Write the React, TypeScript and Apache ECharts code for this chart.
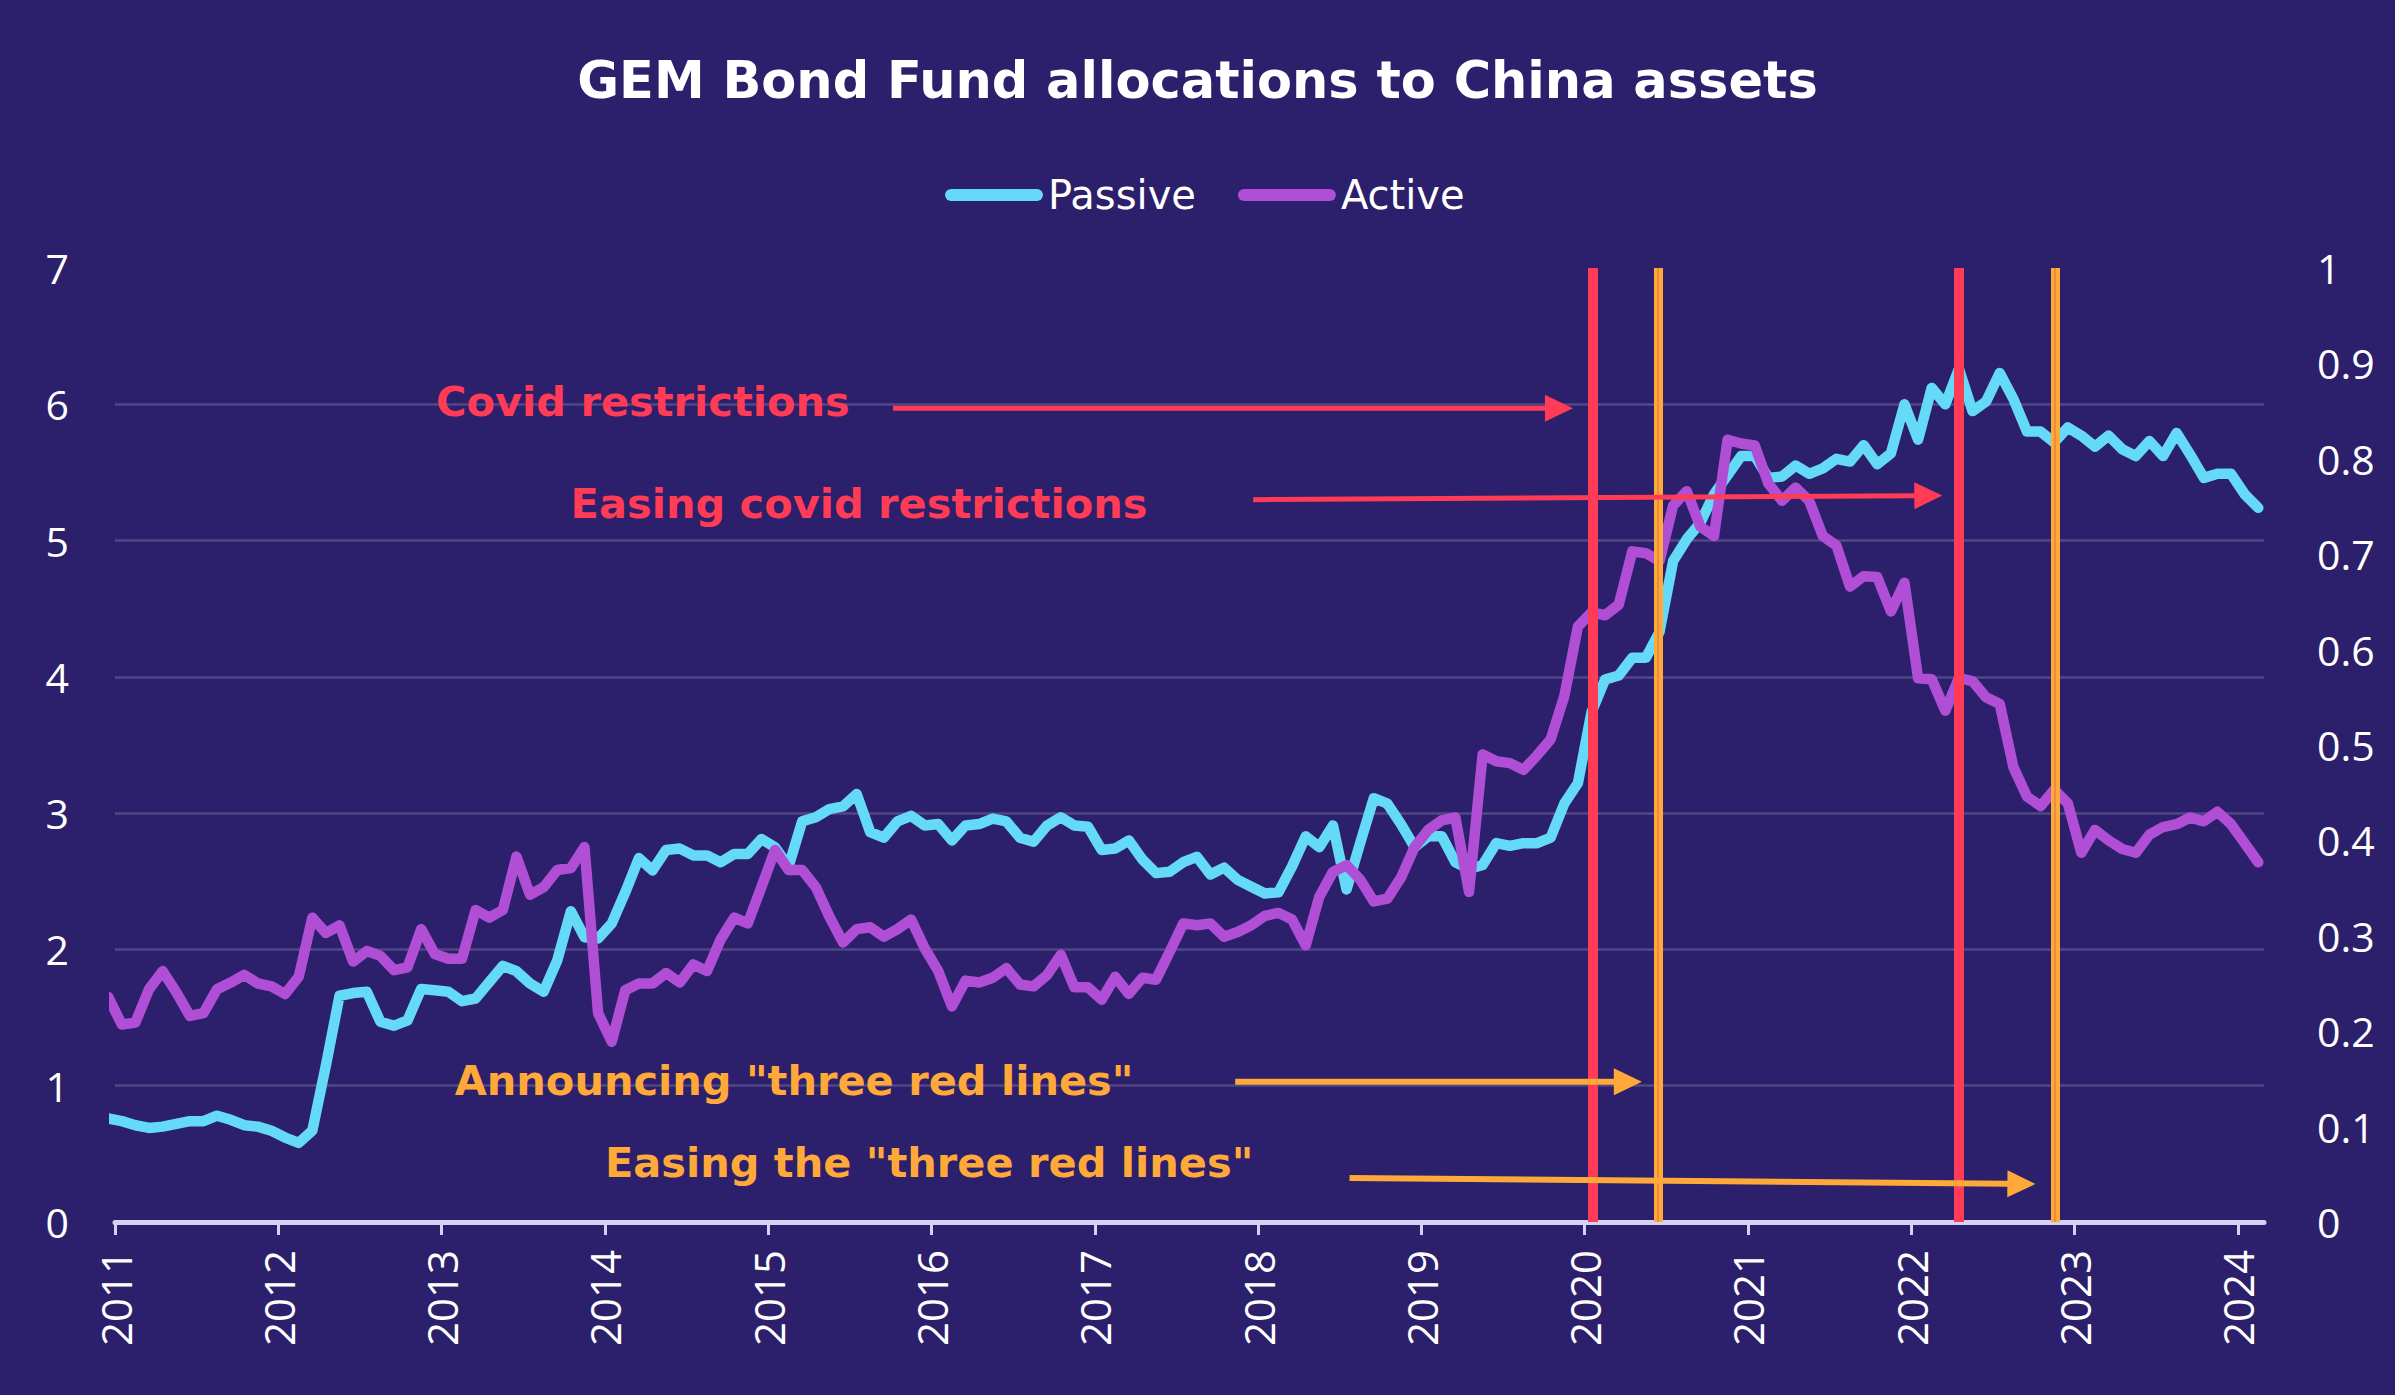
import React, { useEffect, useRef } from "react";
import * as echarts from "echarts";

// Monthly observations, first month = Dec 2010, last = Feb 2024
const START_YEAR = 2010;
const START_MONTH = 12;

// Passive allocation (left axis, 0-7)
const passive = [
  0.76,
  0.74, 0.71, 0.69, 0.70, 0.72, 0.74, 0.74, 0.78, 0.75, 0.71, 0.70, 0.67,
  0.62, 0.58, 0.67, 1.15, 1.66, 1.68, 1.69, 1.47, 1.44, 1.48, 1.71, 1.70,
  1.69, 1.62, 1.64, 1.76, 1.88, 1.84, 1.75, 1.69, 1.92, 2.28, 2.09, 2.08,
  2.19, 2.42, 2.67, 2.58, 2.73, 2.74, 2.69, 2.69, 2.64, 2.70, 2.70, 2.81,
  2.75, 2.61, 2.94, 2.97, 3.03, 3.05, 3.14, 2.86, 2.82, 2.94, 2.98, 2.91,
  2.92, 2.80, 2.91, 2.92, 2.96, 2.94, 2.82, 2.79, 2.91, 2.97, 2.91, 2.90,
  2.73, 2.74, 2.80, 2.66, 2.56, 2.57, 2.64, 2.68, 2.55, 2.60, 2.51, 2.46,
  2.41, 2.42, 2.61, 2.83, 2.75, 2.91, 2.44, 2.78, 3.11, 3.07, 2.92, 2.75,
  2.83, 2.83, 2.64, 2.59, 2.62, 2.78, 2.76, 2.78, 2.78, 2.82, 3.07, 3.22,
  3.74, 3.98, 4.01, 4.14, 4.14, 4.33, 4.85, 5.01, 5.13, 5.34, 5.48, 5.62,
  5.62, 5.46, 5.47, 5.55, 5.49, 5.53, 5.60, 5.58, 5.70, 5.56, 5.64, 6.00,
  5.74, 6.12, 6.00, 6.26, 5.95, 6.02, 6.23, 6.04, 5.80, 5.80, 5.72, 5.83,
  5.77, 5.69, 5.77, 5.67, 5.62, 5.73, 5.62, 5.79, 5.63, 5.46, 5.49, 5.49,
  5.34, 5.24,
];

// Active allocation (right axis, 0-1)
const active = [
  0.236,
  0.207, 0.209, 0.244, 0.263, 0.241, 0.216, 0.219, 0.244, 0.251, 0.259, 0.250, 0.247,
  0.239, 0.257, 0.319, 0.303, 0.311, 0.273, 0.284, 0.279, 0.264, 0.267, 0.307, 0.281,
  0.276, 0.276, 0.327, 0.319, 0.327, 0.383, 0.343, 0.351, 0.369, 0.371, 0.393, 0.219,
  0.189, 0.243, 0.250, 0.250, 0.261, 0.251, 0.270, 0.263, 0.296, 0.319, 0.313, 0.351,
  0.390, 0.369, 0.369, 0.351, 0.320, 0.293, 0.307, 0.309, 0.299, 0.307, 0.317, 0.287,
  0.263, 0.226, 0.253, 0.251, 0.256, 0.266, 0.249, 0.247, 0.259, 0.280, 0.246, 0.246,
  0.233, 0.257, 0.239, 0.256, 0.254, 0.283, 0.313, 0.311, 0.313, 0.299, 0.304, 0.311,
  0.321, 0.324, 0.317, 0.290, 0.341, 0.367, 0.374, 0.359, 0.336, 0.339, 0.361, 0.393,
  0.411, 0.421, 0.424, 0.346, 0.490, 0.483, 0.481, 0.474, 0.489, 0.506, 0.551, 0.624,
  0.639, 0.636, 0.647, 0.703, 0.701, 0.693, 0.751, 0.766, 0.729, 0.719, 0.820, 0.816,
  0.814, 0.774, 0.756, 0.770, 0.756, 0.719, 0.709, 0.666, 0.677, 0.676, 0.640, 0.670,
  0.570, 0.569, 0.536, 0.570, 0.567, 0.550, 0.543, 0.477, 0.446, 0.436, 0.453, 0.439,
  0.387, 0.411, 0.400, 0.391, 0.387, 0.406, 0.414, 0.417, 0.424, 0.420, 0.430, 0.417,
  0.397, 0.377,
];

const yearTicks = [2011, 2012, 2013, 2014, 2015, 2016, 2017, 2018, 2019, 2020, 2021, 2022, 2023, 2024];

// Event dates (fractional year)
const covidDates = [2020.045, 2022.292];
const redLinesDates = [2020.449, 2022.88];

// Annotations
const annotationTexts = [
  "Covid restrictions",
  "Easing covid restrictions",
  'Announcing "three red lines"',
  'Easing the "three red lines"',
];

const BG = "#2c1f6b";
const CYAN = "#64daf7";
const PURPLE = "#b04fd5";
const RED = "#ff3b56";
const ORANGE = "#ffa93b";
const AXIS = "#d6d0f3";

// annotation anchors in (year, left-axis value) space
const annotationTextAnchor = [
  [2012.966, 6.02],
  [2013.79, 5.275],
  [2013.08, 1.035],
  [2014.0, 0.433],
];
const arrowStart = [
  [2015.764, 5.97],
  [2017.97, 5.3],
  [2017.86, 1.03],
  [2018.56, 0.323],
];
const arrowEnd = [
  [2019.928, 5.97],
  [2022.19, 5.33],
  [2020.35, 1.03],
  [2022.76, 0.279],
];
const annotationColors = [RED, RED, ORANGE, ORANGE];
const arrowWidths = [5, 5, 6, 6];

export default function App() {
  const ref = useRef<HTMLDivElement>(null);

  useEffect(() => {
    const chart = echarts.init(ref.current as HTMLDivElement, null, { renderer: "svg" });
    const xOf = (i: number) => START_YEAR + (START_MONTH - 1 + i + 0.5) / 12;
    const passiveData = passive.map((v, i) => [xOf(i), v]);
    const activeData = active.map((v, i) => [xOf(i), v]);

    const labelFont = {
      color: "#ffffff",
      fontSize: 41,
      fontFamily: "'Open Sans', sans-serif",
    };

    const option: any = {
      animation: false,
      backgroundColor: BG,
      title: {
        text: "GEM Bond Fund allocations to China assets",
        left: "center",
        top: 50,
        textStyle: {
          color: "#ffffff",
          fontSize: 51,
          fontWeight: "bold",
          fontFamily: "'DejaVu Sans', sans-serif",
        },
      },
      legend: {
        data: ["Passive", "Active"],
        top: 170,
        left: 940,
        itemWidth: 98,
        itemHeight: 12,
        itemGap: 42,
        icon: "path://M6,0 L92,0 A6,6 0 0 1 92,12 L6,12 A6,6 0 0 1 6,0 Z",
        textStyle: {
          color: "#ffffff",
          fontSize: 40,
          fontFamily: "'DejaVu Sans', sans-serif",
        },
      },
      grid: {
        left: 115,
        right: 131,
        top: 268,
        bottom: 173,
        containLabel: false,
        outerBoundsMode: "none",
      },
      xAxis: {
        type: "value",
        min: 2011,
        max: 2024.16,
        interval: 1,
        axisLine: { show: true, onZero: false, lineStyle: { color: AXIS, width: 5 } },
        axisTick: {
          show: true,
          customValues: yearTicks,
          length: 13,
          lineStyle: { color: AXIS, width: 3 },
        },
        axisLabel: {
          customValues: yearTicks,
          rotate: 90,
          margin: 28,
          ...labelFont,
          fontSize: 42,
          formatter: (v: number) => String(Math.round(v)),
        },
        splitLine: { show: false },
      },
      yAxis: [
        {
          type: "value",
          min: 0,
          max: 7,
          interval: 1,
          axisLine: { show: false },
          axisTick: { show: false },
          axisLabel: { margin: 46, ...labelFont },
          splitLine: {
            show: true,
            showMinLine: false,
            showMaxLine: false,
            lineStyle: { color: "rgba(255,255,255,0.18)", width: 2.5 },
          },
        },
        {
          type: "value",
          min: 0,
          max: 1,
          interval: 0.1,
          position: "right",
          axisLine: { show: false },
          axisTick: { show: false },
          axisLabel: {
            margin: 53,
            ...labelFont,
            formatter: (v: number) => String(Math.round(v * 10) / 10),
          },
          splitLine: { show: false },
        },
      ],
      series: [
        {
          name: "redLinesEvents",
          type: "line",
          data: [],
          z: 1,
          silent: true,
          markLine: {
            silent: true,
            symbol: ["none", "none"],
            label: { show: false },
            emphasis: { disabled: true },
            data: [
              ...redLinesDates.map((d) => ({ xAxis: d, lineStyle: { color: ORANGE, width: 9, type: "solid", opacity: 1 } })),
              ...redLinesDates.map((d) => ({ xAxis: d, lineStyle: { color: "#e0893a", width: 1.5, type: "solid", opacity: 1 } })),
            ],
          },
        },
        {
          name: "Passive",
          type: "line",
          yAxisIndex: 0,
          data: passiveData,
          color: CYAN,
          showSymbol: false,
          symbol: "none",
          z: 2,
          lineStyle: { color: CYAN, width: 10.5, cap: "round", join: "round" },
        },
        {
          name: "Active",
          type: "line",
          yAxisIndex: 1,
          data: activeData,
          color: PURPLE,
          showSymbol: false,
          symbol: "none",
          z: 2,
          lineStyle: { color: PURPLE, width: 10.5, cap: "round", join: "round" },
        },
        {
          name: "covidEvents",
          type: "line",
          data: [],
          z: 3,
          silent: true,
          markLine: {
            silent: true,
            symbol: ["none", "none"],
            label: { show: false },
            emphasis: { disabled: true },
            data: covidDates.map((d) => ({ xAxis: d, lineStyle: { color: RED, width: 10, type: "solid", opacity: 1 } })),
          },
        },
      ],
    };

    chart.setOption(option);

    const toPx = (p: number[]) =>
      chart.convertToPixel({ xAxisIndex: 0, yAxisIndex: 0 }, p) as number[];

    const graphics: any[] = [];
    annotationTexts.forEach((t, i) => {
      const tp = toPx(annotationTextAnchor[i]);
      graphics.push({
        type: "text",
        x: tp[0],
        y: tp[1],
        z: 20,
        silent: true,
        style: {
          text: t,
          fill: annotationColors[i],
          fontSize: 41.5,
          fontWeight: "bold",
          fontFamily: "'DejaVu Sans', sans-serif",
          align: "left",
          verticalAlign: "middle",
          textAlign: "left",
          textVerticalAlign: "middle",
        },
      });
      const a = toPx(arrowStart[i]);
      const b = toPx(arrowEnd[i]);
      const dx = b[0] - a[0];
      const dy = b[1] - a[1];
      const len = Math.sqrt(dx * dx + dy * dy);
      const ux = dx / len;
      const uy = dy / len;
      const headLen = 28;
      const headHalf = 13.5;
      const bx = b[0] - ux * headLen;
      const by = b[1] - uy * headLen;
      graphics.push({
        type: "line",
        z: 20,
        silent: true,
        shape: { x1: a[0], y1: a[1], x2: bx + ux * 2, y2: by + uy * 2 },
        style: { stroke: annotationColors[i], lineWidth: arrowWidths[i] },
      });
      graphics.push({
        type: "polygon",
        z: 20,
        silent: true,
        shape: {
          points: [
            [b[0], b[1]],
            [bx - uy * headHalf, by + ux * headHalf],
            [bx + uy * headHalf, by - ux * headHalf],
          ],
        },
        style: { fill: annotationColors[i] },
      });
    });

    chart.setOption({ graphic: { elements: graphics } });

    return () => {
      chart.dispose();
    };
  }, []);

  return (
    <div
      ref={ref}
      style={{
        position: "fixed",
        left: 0,
        top: 0,
        width: 2395,
        height: 1395,
        background: BG,
      }}
    />
  );
}
